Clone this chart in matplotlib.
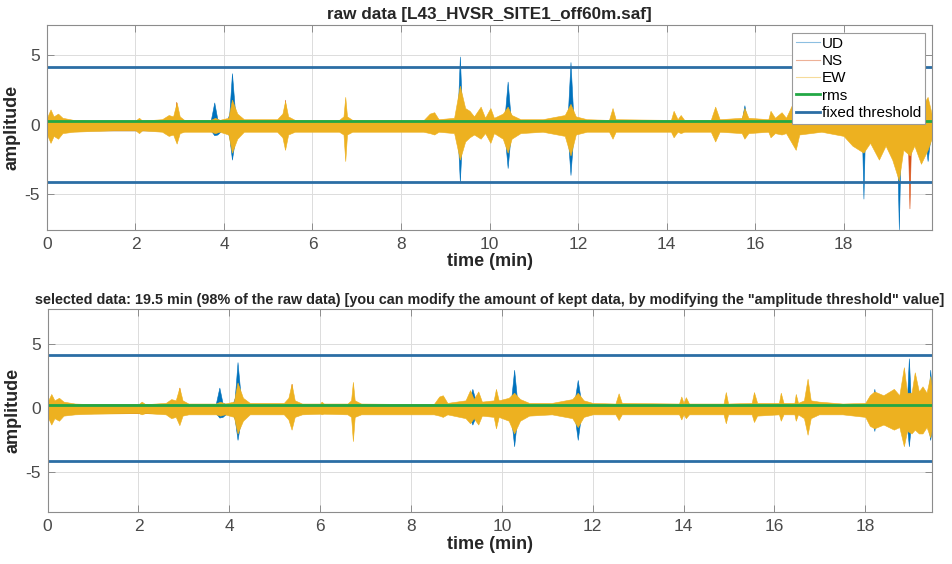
import matplotlib

matplotlib.use("Agg")

import matplotlib.pyplot as plt
from matplotlib.lines import Line2D
from matplotlib.ticker import FixedLocator

# ---- raw data panel: envelope knots (time in min) ----
RAW_EW_T = [0.00, 0.08, 0.15, 0.25, 0.35, 0.60, 1.00, 1.50, 2.00, 2.08, 2.15, 2.60, 2.75, 2.85,
            2.93, 3.00, 3.10, 3.70, 3.80, 3.90, 4.10, 4.18, 4.30, 4.45, 5.20, 5.32, 5.38, 5.45,
            5.60, 6.60, 6.70, 6.74, 6.78, 6.90, 8.50, 8.65, 8.75, 8.85, 9.20, 9.33, 9.45, 9.55,
            9.65, 9.80, 9.90, 10.02, 10.10, 10.30, 10.41, 10.50, 10.70, 11.20, 11.70, 11.83,
            11.95, 12.20, 12.70, 12.78, 12.85, 14.10, 14.16, 14.25, 14.32, 14.40, 15.00, 15.10,
            15.20, 15.70, 15.76, 15.85, 16.30, 16.35, 16.45, 16.60, 16.70, 16.92, 17.00, 17.50,
            18.00, 18.20, 18.45, 18.60, 18.80, 18.95, 19.10, 19.25, 19.35, 19.50, 19.60, 19.75,
            19.90, 19.99]
RAW_EW_UP = [0.5, 1.1, 0.6, 0.8, 0.5, 0.35, 0.3, 0.3, 0.3, 0.5, 0.3, 0.4, 0.7, 0.6,
             1.6, 0.6, 0.35, 0.35, 0.5, 0.35, 0.5, 1.8, 0.8, 0.4, 0.4, 0.8, 1.7, 0.6,
             0.35, 0.35, 0.6, 2.0, 0.6, 0.35, 0.3, 0.8, 0.9, 0.4, 0.5, 2.8, 1.2, 1.0,
             0.6, 1.3, 0.5, 1.2, 0.5, 0.8, 1.3, 0.7, 0.4, 0.4, 0.7, 1.5,
             0.6, 0.4, 0.35, 1.2, 0.4, 0.35, 1.0, 0.4, 0.7, 0.35, 0.35, 1.3,
             0.4, 0.5, 1.2, 0.5, 0.4, 1.0, 0.5, 0.9, 0.5, 2.0, 0.6, 0.4,
             0.5, 0.7, 0.8, 0.7, 0.8, 0.8, 1.0, 1.0, 0.8, 1.0, 1.5, 1.2,
             2.0, 0.8]
RAW_EW_LO = [-0.7, -1.3, -0.8, -1.0, -0.6, -0.5, -0.45, -0.4, -0.4, -0.6, -0.4, -0.5, -0.8, -0.7,
             -1.35, -0.6, -0.5, -0.5, -0.6, -0.5, -0.7, -2.0, -1.0, -0.5, -0.5, -0.9, -1.8, -0.7,
             -0.5, -0.5, -0.7, -2.6, -0.7, -0.5, -0.5, -0.6, -0.7, -0.5, -0.6, -2.5, -1.2, -0.9,
             -0.7, -1.0, -0.6, -1.3, -0.6, -1.0, -2.0, -1.0, -0.6, -0.5, -0.8, -2.2,
             -0.7, -0.5, -0.5, -1.0, -0.5, -0.5, -0.9, -0.5, -0.6, -0.5, -0.5, -1.2,
             -0.5, -0.6, -1.0, -0.6, -0.5, -0.9, -0.6, -0.7, -0.6, -1.8, -0.7, -0.5,
             -0.8, -1.5, -2.0, -1.3, -2.5, -1.5, -2.5, -4.0, -1.8, -2.2, -1.5, -2.8,
             -1.8, -1.0]

RAW_UD_T = [0.00, 3.70, 3.78, 3.85, 3.95, 4.07, 4.12, 4.18, 4.25, 4.35, 9.24, 9.28, 9.33,
            9.38, 9.44, 10.30, 10.35, 10.41, 10.47, 10.53, 11.72, 11.77, 11.83, 11.89, 11.95,
            15.70, 15.76, 15.82, 18.39, 18.42, 18.45, 18.48, 18.51, 19.17, 19.21, 19.25, 19.29,
            19.33, 19.82, 19.86, 19.90, 19.94, 19.99]
RAW_UD_UP = [0.3, 0.3, 1.6, 0.4, 0.3, 0.3, 0.8, 3.7, 0.9, 0.3, 0.3, 0.8, 4.9,
             0.8, 0.3, 0.3, 0.9, 3.1, 0.8, 0.3, 0.3, 0.8, 4.5, 0.8, 0.3,
             0.3, 1.4, 0.3, 0.3, 0.5, 0.8, 0.5, 0.3, 0.3, 0.8, 1.0, 0.8,
             0.3, 0.3, 0.9, 1.8, 0.9, 0.5]
RAW_UD_LO = [-0.4, -0.4, -0.75, -0.7, -0.4, -0.4, -0.9, -2.5, -1.0, -0.4, -0.4, -0.8, -4.1,
             -0.8, -0.4, -0.4, -1.0, -3.1, -1.0, -0.4, -0.4, -0.9, -3.6, -0.9, -0.4,
             -0.4, -0.9, -0.4, -0.4, -1.2, -5.3, -1.2, -0.4, -0.4, -1.5, -7.5, -1.5,
             -0.4, -0.4, -1.5, -2.6, -1.5, -0.6]

RAW_NS_T = [0.00, 2.89, 2.92, 2.95, 5.35, 5.38, 5.41, 19.45, 19.49, 19.53, 19.99]
RAW_NS_UP = [0.3, 0.3, 1.65, 0.3, 0.3, 1.8, 0.3, 0.3, 0.6, 0.3, 0.3]
RAW_NS_LO = [-0.4, -0.4, -1.2, -0.4, -0.4, -1.5, -0.4, -0.4, -6.0, -0.4, -0.4]

# ---- selected data panel ----
SEL_EW_T = [0.00, 0.08, 0.15, 0.25, 0.35, 0.60, 1.00, 2.00, 2.07, 2.15, 2.60, 2.72, 2.82, 2.90,
            2.97, 3.10, 3.70, 3.80, 3.90, 4.10, 4.18, 4.30, 4.45, 5.20, 5.30, 5.37, 5.44, 5.60,
            6.00, 6.03, 6.08, 6.60, 6.68, 6.72, 6.76, 6.90, 8.50, 8.62, 8.70, 8.80, 9.20, 9.30,
            9.38, 9.48, 9.56, 9.82, 9.87, 9.93, 10.15, 10.27, 10.40, 10.60, 11.10, 11.55, 11.67,
            11.80, 12.00, 12.50, 12.57, 12.64, 13.90, 13.95, 14.00, 14.05, 14.12, 14.88, 14.93,
            14.98, 15.50, 15.55, 15.62, 16.10, 16.14, 16.20, 16.44, 16.47, 16.52, 16.65, 16.73,
            16.80, 16.98, 17.50, 18.00, 18.10, 18.20, 18.40, 18.63, 18.75, 18.85, 18.92, 19.02,
            19.09, 19.18, 19.26, 19.35, 19.43, 19.47]
SEL_EW_UP = [0.5, 1.1, 0.6, 0.8, 0.5, 0.35, 0.3, 0.3, 0.5, 0.3, 0.4, 0.7, 0.6, 1.6,
             0.6, 0.35, 0.35, 0.5, 0.35, 0.5, 2.0, 0.8, 0.4, 0.4, 0.8, 1.9, 0.6, 0.35,
             0.35, 0.5, 0.35, 0.35, 0.6, 2.05, 0.6, 0.35, 0.3, 0.9, 1.0, 0.4, 0.6, 1.4,
             0.7, 1.3, 0.5, 0.6, 1.5, 0.6, 0.8, 1.2, 0.7, 0.4, 0.4, 0.7, 1.2,
             0.6, 0.4, 0.35, 1.15, 0.4, 0.35, 0.9, 0.4, 0.85, 0.35, 0.35, 1.25,
             0.35, 0.4, 1.25, 0.4, 0.4, 1.2, 0.4, 0.4, 1.1, 0.4, 0.6, 2.3,
             0.6, 0.5, 0.35, 0.4, 1.0, 1.3, 1.0, 1.5, 1.0, 3.2, 1.2, 1.2,
             2.8, 1.3, 1.7, 1.2, 2.5, 1.5]
SEL_EW_LO = [-0.7, -1.3, -0.8, -1.0, -0.6, -0.5, -0.45, -0.4, -0.5, -0.4, -0.5, -0.8, -0.7, -1.35,
             -0.6, -0.5, -0.5, -0.6, -0.5, -0.7, -2.0, -1.0, -0.5, -0.5, -0.9, -1.7, -0.7, -0.5,
             -0.45, -0.5, -0.45, -0.5, -0.7, -2.6, -0.7, -0.5, -0.5, -0.6, -0.7, -0.5, -0.8, -1.2,
             -0.8, -1.3, -0.6, -0.7, -1.6, -0.7, -1.0, -2.0, -1.0, -0.6, -0.5, -0.8, -1.5,
             -0.7, -0.5, -0.5, -0.95, -0.5, -0.5, -0.9, -0.5, -0.8, -0.5, -0.5, -1.2,
             -0.5, -0.5, -1.1, -0.6, -0.5, -1.0, -0.5, -0.5, -1.0, -0.5, -0.8, -2.1,
             -0.8, -0.5, -0.5, -0.7, -1.4, -1.6, -1.3, -1.7, -1.5, -3.0, -1.8, -2.0,
             -1.7, -2.0, -2.0, -1.5, -2.3, -1.6]

SEL_UD_T = [0.00, 3.70, 3.78, 3.85, 3.95, 4.07, 4.12, 4.18, 4.25, 4.35, 9.22, 9.28, 9.35,
            9.42, 9.48, 10.15, 10.21, 10.27, 10.33, 10.39, 11.55, 11.61, 11.67, 11.73, 11.79,
            18.12, 18.16, 18.20, 18.24, 18.28, 18.88, 18.92, 18.96, 19.00, 19.04, 19.35, 19.39,
            19.43, 19.47]
SEL_UD_UP = [0.3, 0.3, 1.6, 0.4, 0.3, 0.3, 0.8, 3.6, 0.9, 0.3, 0.3, 0.6, 1.5,
             0.6, 0.3, 0.3, 0.9, 3.0, 0.8, 0.3, 0.3, 0.8, 2.2, 0.8, 0.3,
             0.3, 0.5, 1.5, 0.5, 0.3, 0.3, 0.8, 3.9, 0.8, 0.3, 0.3, 0.8,
             3.0, 1.0]
SEL_UD_LO = [-0.4, -0.4, -0.75, -0.7, -0.4, -0.4, -0.9, -2.5, -1.0, -0.4, -0.4, -0.7, -1.3,
             -0.7, -0.4, -0.4, -1.0, -3.0, -1.0, -0.4, -0.4, -0.9, -2.5, -0.9, -0.4,
             -0.4, -0.8, -1.8, -0.8, -0.4, -0.4, -1.5, -3.0, -1.5, -0.4, -0.4, -1.5,
             -2.5, -1.5]

SEL_NS_T = [0.00, 2.87, 2.90, 2.93, 5.34, 5.37, 5.40, 19.47]
SEL_NS_UP = [0.3, 0.3, 1.6, 0.3, 0.3, 1.9, 0.3, 0.3]
SEL_NS_LO = [-0.4, -0.4, -1.1, -0.4, -0.4, -1.4, -0.4, -0.4]

RMS_LEVEL = 0.26
THRESHOLD = 4.13
RAW_DURATION = 20.0
SEL_DURATION = 19.47
X_TICKS = [0, 2, 4, 6, 8, 10, 12, 14, 16, 18]
Y_TICKS = [-5, 0, 5]

RAW_TITLE = "raw data [L43_HVSR_SITE1_off60m.saf]"
SEL_TITLE = ('selected data: 19.5 min (98% of the raw data) [you can modify the amount of kept data, '
             'by modifying the "amplitude threshold" value]')

C_UD = "#0072BD"
C_NS = "#D95319"
C_EW = "#EDB120"
C_RMS = "#22A845"
C_THR = "#2B6EA5"

plt.rcParams.update({
    "font.family": ["Liberation Sans", "DejaVu Sans"],
    "axes.edgecolor": "#8c8c8c",
    "axes.linewidth": 0.8,
    "axes.unicode_minus": False,
})


def draw_panel(ax, duration, channels, ylim, title, title_size):
    for t, up, lo, color in channels:
        ax.fill_between(t, lo, up, color=color, linewidth=0.4, edgecolor=color)
    ax.plot([0, duration], [RMS_LEVEL, RMS_LEVEL], color=C_RMS, linewidth=2.0)
    ax.plot([0, duration], [THRESHOLD, THRESHOLD], color=C_THR, linewidth=2.0)
    ax.plot([0, duration], [-THRESHOLD, -THRESHOLD], color=C_THR, linewidth=2.0)

    ax.set_xlim(0, duration)
    ax.set_ylim(*ylim)
    ax.xaxis.set_major_locator(FixedLocator(X_TICKS))
    ax.yaxis.set_major_locator(FixedLocator(Y_TICKS))
    ax.grid(True, color="#dcdcdc", linewidth=0.7)
    ax.set_axisbelow(True)
    ax.tick_params(direction="in", top=True, right=True, length=5, width=0.7,
                   color="#8c8c8c", labelcolor="#4a4a4a", labelsize=12.5, pad=5)
    ax.set_xlabel("time (min)", fontsize=13, fontweight="bold", color="#262626", labelpad=1)
    ax.set_ylabel("amplitude", fontsize=13, fontweight="bold", color="#262626", labelpad=3)
    ax.set_title(title, fontsize=title_size, fontweight="bold", color="#262626", pad=4)


fig = plt.figure(figsize=(9.53, 5.64), dpi=100)
ax_raw = fig.add_axes([0.0493, 0.592, 0.9287, 0.3637])
ax_sel = fig.add_axes([0.0500, 0.0917, 0.9280, 0.3599])

draw_panel(
    ax_raw, RAW_DURATION,
    [(RAW_UD_T, RAW_UD_UP, RAW_UD_LO, C_UD),
     (RAW_NS_T, RAW_NS_UP, RAW_NS_LO, C_NS),
     (RAW_EW_T, RAW_EW_UP, RAW_EW_LO, C_EW)],
    (-7.56, 7.16), RAW_TITLE, 12.3,
)
draw_panel(
    ax_sel, SEL_DURATION,
    [(SEL_UD_T, SEL_UD_UP, SEL_UD_LO, C_UD),
     (SEL_NS_T, SEL_NS_UP, SEL_NS_LO, C_NS),
     (SEL_EW_T, SEL_EW_UP, SEL_EW_LO, C_EW)],
    (-8.19, 7.75), SEL_TITLE, 10.4,
)

handles = [
    Line2D([], [], color=C_UD, linewidth=0.8, alpha=0.45),
    Line2D([], [], color=C_NS, linewidth=0.8, alpha=0.45),
    Line2D([], [], color=C_EW, linewidth=0.8, alpha=0.45),
    Line2D([], [], color=C_RMS, linewidth=2.0),
    Line2D([], [], color=C_THR, linewidth=2.0),
]
leg = ax_raw.legend(
    handles, ["UD", "NS", "EW", "rms", "fixed threshold"],
    loc="upper right", bbox_to_anchor=(0.992, 0.962), borderaxespad=0.0,
    fontsize=11, handlelength=1.6, handletextpad=0.1, labelspacing=0.22,
    borderpad=0.25, fancybox=False, framealpha=1.0, edgecolor="#9a9a9a",
)
leg.get_frame().set_linewidth(0.8)

fig.savefig("out.png", dpi=100)
